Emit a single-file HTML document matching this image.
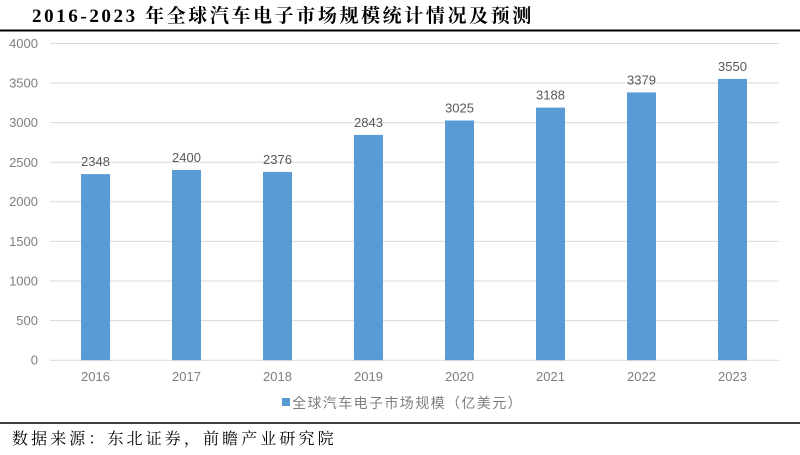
<!DOCTYPE html>
<html><head><meta charset="utf-8"><style>
body{margin:0;background:#fff;width:800px;height:450px;overflow:hidden}
</style></head><body>
<svg width="800" height="450" xmlns="http://www.w3.org/2000/svg" font-family="'Liberation Sans','Noto Sans CJK SC',sans-serif">
<text x="32" y="22" font-family="'Liberation Serif','Noto Serif CJK SC',serif" font-weight="bold" font-size="19" letter-spacing="2.6" fill="#000">2016-2023 年全球汽车电子市场规模统计情况及预测</text>
<line x1="0" y1="30.5" x2="800" y2="30.5" stroke="#000" stroke-width="2"/>
<g stroke="#d9d9d9" stroke-width="1">
<line x1="50" x2="779" y1="43.5" y2="43.5"/><line x1="50" x2="779" y1="83" y2="83"/>
<line x1="50" x2="779" y1="122.6" y2="122.6"/><line x1="50" x2="779" y1="162.2" y2="162.2"/>
<line x1="50" x2="779" y1="201.8" y2="201.8"/><line x1="50" x2="779" y1="241.4" y2="241.4"/>
<line x1="50" x2="779" y1="281" y2="281"/><line x1="50" x2="779" y1="320.6" y2="320.6"/>
<line x1="50" x2="779" y1="360.2" y2="360.2"/>
</g>
<g font-size="13" fill="#7f7f7f" text-anchor="end">
<text x="38" y="48">4000</text><text x="38" y="87.5">3500</text><text x="38" y="127">3000</text>
<text x="38" y="167">2500</text><text x="38" y="206">2000</text><text x="38" y="246">1500</text>
<text x="38" y="285.5">1000</text><text x="38" y="325">500</text><text x="38" y="364.5">0</text>
</g>
<g fill="#5b9bd5">
<rect x="81" y="174.1" width="29" height="186.1"/>
<rect x="172" y="170" width="29" height="190.2"/>
<rect x="263" y="171.9" width="29" height="188.3"/>
<rect x="354" y="134.9" width="29" height="225.3"/>
<rect x="445" y="120.5" width="29" height="239.7"/>
<rect x="536" y="107.6" width="29" height="252.6"/>
<rect x="627" y="92.4" width="29" height="267.8"/>
<rect x="718" y="78.9" width="29" height="281.3"/>
</g>
<g font-size="13" fill="#595959" text-anchor="middle">
<text x="95.5" y="166">2348</text><text x="186.5" y="162">2400</text><text x="277.5" y="164">2376</text>
<text x="368.5" y="127">2843</text><text x="459.5" y="112.5">3025</text><text x="550.5" y="99.5">3188</text>
<text x="641.5" y="84.5">3379</text><text x="732.5" y="71">3550</text>
</g>
<g font-size="13" fill="#7f7f7f" text-anchor="middle">
<text x="95.5" y="381">2016</text><text x="186.5" y="381">2017</text><text x="277.5" y="381">2018</text>
<text x="368.5" y="381">2019</text><text x="459.5" y="381">2020</text><text x="550.5" y="381">2021</text>
<text x="641.5" y="381">2022</text><text x="732.5" y="381">2023</text>
</g>
<rect x="282" y="398" width="8" height="8" fill="#5b9bd5"/>
<text x="292" y="408" font-size="14" letter-spacing="1.4" fill="#7f7f7f">全球汽车电子市场规模（亿美元）</text>
<line x1="0" y1="423" x2="800" y2="423" stroke="#000" stroke-width="1.5"/>
<text x="12" y="444" font-family="'Liberation Serif','Noto Serif CJK SC',serif" font-size="16" letter-spacing="3.1" fill="#000">数据来源：东北证券，前瞻产业研究院</text>
</svg>
</body></html>
